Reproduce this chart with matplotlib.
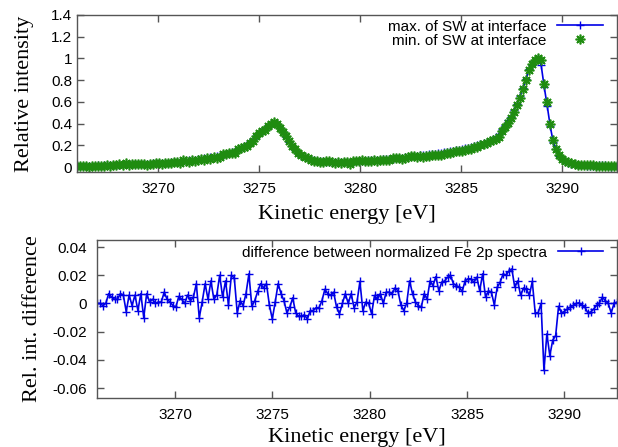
import numpy as np
import matplotlib.pyplot as plt

plt.rcParams['axes.unicode_minus'] = False

# energy grid of the spectra (eV)
e_start = 3266.0
e_step = 0.15

# normalized Fe 2p intensity, standing wave max at interface
max_sw = [0.010, 0.011, 0.010, 0.012, 0.011, 0.013, 0.012, 0.014, 0.013, 0.015,
          0.016, 0.017, 0.018, 0.020, 0.022, 0.024, 0.026, 0.027, 0.028, 0.028,
          0.029, 0.030, 0.030, 0.031, 0.032, 0.033, 0.034, 0.035, 0.036, 0.038,
          0.040, 0.042, 0.044, 0.047, 0.050, 0.053, 0.056, 0.060, 0.064, 0.068,
          0.072, 0.076, 0.080, 0.085, 0.090, 0.095, 0.100, 0.106, 0.113, 0.121,
          0.130, 0.140, 0.151, 0.163, 0.177, 0.193, 0.212, 0.233, 0.256, 0.281,
          0.305, 0.332, 0.358, 0.381, 0.400, 0.405, 0.392, 0.362, 0.320, 0.275,
          0.230, 0.190, 0.155, 0.127, 0.105, 0.090, 0.079, 0.070, 0.064, 0.059,
          0.055, 0.052, 0.049, 0.047, 0.046, 0.045, 0.045, 0.045, 0.046, 0.047,
          0.048, 0.050, 0.052, 0.054, 0.056, 0.058, 0.060, 0.062, 0.064, 0.066,
          0.068, 0.070, 0.072, 0.075, 0.078, 0.081, 0.084, 0.087, 0.090, 0.093,
          0.097, 0.100, 0.103, 0.106, 0.109, 0.112, 0.116, 0.120, 0.124, 0.128,
          0.132, 0.136, 0.140, 0.145, 0.150, 0.155, 0.160, 0.166, 0.172, 0.178,
          0.185, 0.193, 0.201, 0.210, 0.220, 0.231, 0.243, 0.258, 0.275, 0.300,
          0.350, 0.388, 0.430, 0.462, 0.521, 0.576, 0.651, 0.730, 0.806, 0.906,
          0.943, 0.978, 1.000, 0.938, 0.739, 0.563, 0.374, 0.227, 0.163, 0.103,
          0.072, 0.051, 0.039, 0.032, 0.026, 0.023, 0.018, 0.014, 0.009, 0.009,
          0.010, 0.012, 0.014, 0.017, 0.014, 0.011, 0.004, 0.010, 0.011]

# standing wave min at interface
min_sw = [0.010, 0.011, 0.012, 0.012, 0.004, 0.009, 0.009, 0.011, 0.006, 0.009,
          0.022, 0.011, 0.020, 0.014, 0.027, 0.017, 0.036, 0.020, 0.027, 0.025,
          0.029, 0.029, 0.029, 0.023, 0.029, 0.032, 0.036, 0.038, 0.031, 0.035,
          0.040, 0.036, 0.042, 0.043, 0.036, 0.063, 0.055, 0.046, 0.061, 0.052,
          0.069, 0.070, 0.060, 0.081, 0.074, 0.096, 0.080, 0.088, 0.120, 0.119,
          0.132, 0.133, 0.130, 0.165, 0.175, 0.185, 0.198, 0.222, 0.242, 0.282,
          0.316, 0.331, 0.344, 0.374, 0.398, 0.412, 0.395, 0.358, 0.327, 0.284,
          0.239, 0.198, 0.166, 0.132, 0.110, 0.093, 0.082, 0.068, 0.054, 0.052,
          0.049, 0.044, 0.052, 0.054, 0.046, 0.038, 0.045, 0.038, 0.049, 0.046,
          0.032, 0.055, 0.051, 0.054, 0.063, 0.052, 0.057, 0.055, 0.064, 0.058,
          0.060, 0.063, 0.061, 0.066, 0.079, 0.086, 0.084, 0.071, 0.083, 0.092,
          0.099, 0.103, 0.096, 0.103, 0.093, 0.099, 0.097, 0.111, 0.109, 0.112,
          0.113, 0.116, 0.126, 0.132, 0.139, 0.147, 0.144, 0.149, 0.155, 0.163,
          0.166, 0.184, 0.180, 0.206, 0.211, 0.223, 0.244, 0.247, 0.260, 0.279,
          0.330, 0.365, 0.405, 0.450, 0.505, 0.570, 0.640, 0.720, 0.800, 0.890,
          0.950, 0.985, 1.000, 0.985, 0.760, 0.600, 0.400, 0.250, 0.165, 0.110,
          0.078, 0.055, 0.042, 0.033, 0.026, 0.022, 0.019, 0.017, 0.016, 0.015,
          0.014, 0.013, 0.013, 0.012, 0.012, 0.011, 0.011, 0.010, 0.010]

# difference between the normalized spectra
diff = [0.000, 0.000, -0.0015, 0.000, 0.007, 0.0045, 0.003, 0.003, 0.007, 0.006,
        -0.0057, 0.006, -0.0015, 0.006, -0.005, 0.007, -0.010, 0.007, 0.001, 0.003,
        0.000, 0.001, 0.001, 0.008, 0.003, 0.001, -0.0015, -0.0025, 0.005, 0.003,
        0.000, 0.006, 0.002, 0.0045, 0.014, -0.010, 0.001, 0.014, 0.003, 0.016,
        0.003, 0.006, 0.020, 0.0045, 0.016, -0.001, 0.020, 0.018, -0.0066, 0.002,
        -0.0015, 0.007, 0.021, -0.002, 0.002, 0.0085, 0.014, 0.011, 0.014, -0.001,
        -0.011, 0.001, 0.014, 0.007, 0.002, -0.0066, -0.0026, 0.004, -0.0066, -0.009,
        -0.009, -0.008, -0.011, -0.005, -0.005, -0.003, -0.003, 0.002, 0.010, 0.007,
        0.0057, 0.008, -0.0026, -0.0073, 0.000, 0.007, 0.000, 0.007, -0.003, 0.001,
        0.0156, -0.005, 0.001, 0.000, -0.0073, 0.0057, 0.003, 0.007, 0.000, 0.008,
        0.008, 0.007, 0.011, 0.009, -0.001, -0.005, 0.000, 0.016, 0.007, 0.001,
        -0.0015, -0.0026, 0.007, 0.003, 0.016, 0.0127, 0.019, 0.009, 0.015, 0.016,
        0.0186, 0.020, 0.014, 0.0127, 0.0115, 0.0085, 0.016, 0.0175, 0.0175, 0.015,
        0.0186, 0.009, 0.021, 0.0045, 0.009, 0.008, -0.001, 0.0115, 0.015, 0.021,
        0.020, 0.023, 0.0245, 0.0115, 0.016, 0.0057, 0.011, 0.010, 0.0057, 0.0156,
        -0.0066, -0.0066, 0.000, -0.0475, -0.0215, -0.037, -0.026, -0.0227, -0.002, -0.0066,
        -0.0057, -0.0038, -0.0026, -0.0014, 0.000, 0.0005, -0.0014, -0.0026, -0.0066, -0.006,
        -0.004, -0.0014, 0.0005, 0.0045, 0.002, 0.000, -0.0066, 0.000, 0.001]

energy = e_start + e_step * np.arange(len(max_sw))

xticks = [3270, 3275, 3280, 3285, 3290]
yticks_top = [0, 0.2, 0.4, 0.6, 0.8, 1.0, 1.2, 1.4]
yticks_bot = [-0.06, -0.04, -0.02, 0, 0.02, 0.04]

blue = '#0000e6'
green = '#1f8c10'
frame = '#555555'
sans = 'Liberation Sans'
serif = 'Liberation Serif'


def style(ax, ypad):
    for s in ax.spines.values():
        s.set_color(frame)
        s.set_linewidth(1.0)
    ax.tick_params(direction='in', top=True, right=True, length=5,
                   width=1, color=frame, labelsize=11)
    ax.tick_params(axis='x', pad=7.5)
    ax.tick_params(axis='y', pad=ypad)
    for t in ax.get_xticklabels() + ax.get_yticklabels():
        t.set_family(sans)


fig = plt.figure(figsize=(6.18, 4.47), dpi=100)

# top panel: the two spectra
ax1 = fig.add_axes([77/618, 1 - 172/447, 540/618, 157/447])
ax1.plot(energy, max_sw, color=blue, lw=1.2, marker='+', ms=6, mew=1.0,
         label='max. of SW at interface')
ax1.plot(energy, min_sw, ls='none', color=green, marker=(8, 2, 0), ms=7,
         mew=1.2, label='min. of SW at interface')
ax1.set_xlim(3266.0, 3292.7)
ax1.set_ylim(-0.046, 1.4)
ax1.set_xticks(xticks)
ax1.set_yticks(yticks_top)
ax1.set_yticklabels(['%g' % v for v in yticks_top])
style(ax1, 3.5)
ax1.set_xlabel('Kinetic energy [eV]', family=serif, fontsize=16, labelpad=6)
ax1.set_ylabel('Relative intensity', family=serif, fontsize=16, labelpad=12)
ax1.legend(loc='upper right', bbox_to_anchor=(0.974, 0.97), frameon=False,
           markerfirst=False, handlelength=3, handletextpad=0.7,
           labelspacing=0, borderpad=0, borderaxespad=0, numpoints=1,
           prop={'family': sans, 'size': 11})

# bottom panel: difference
ax2 = fig.add_axes([97/618, 1 - 398/447, 520/618, 158/447])
ax2.plot(energy, diff, color=blue, lw=1.2, marker='+', ms=6, mew=1.0,
         label='difference between normalized Fe 2p spectra')
ax2.set_xlim(3266.0, 3292.7)
ax2.set_ylim(-0.067, 0.045)
ax2.set_xticks(xticks)
ax2.set_yticks(yticks_bot)
ax2.set_yticklabels(['%g' % v for v in yticks_bot])
style(ax2, 7)
ax2.set_xlabel('Kinetic energy [eV]', family=serif, fontsize=16, labelpad=4)
ax2.set_ylabel('Rel. int. difference', family=serif, fontsize=16, labelpad=8)
ax2.legend(loc='upper right', bbox_to_anchor=(0.974, 0.965), frameon=False,
           markerfirst=False, handlelength=3, handletextpad=0.7,
           borderpad=0, borderaxespad=0, numpoints=1,
           prop={'family': sans, 'size': 11})

fig.savefig('out.png', dpi=100)
